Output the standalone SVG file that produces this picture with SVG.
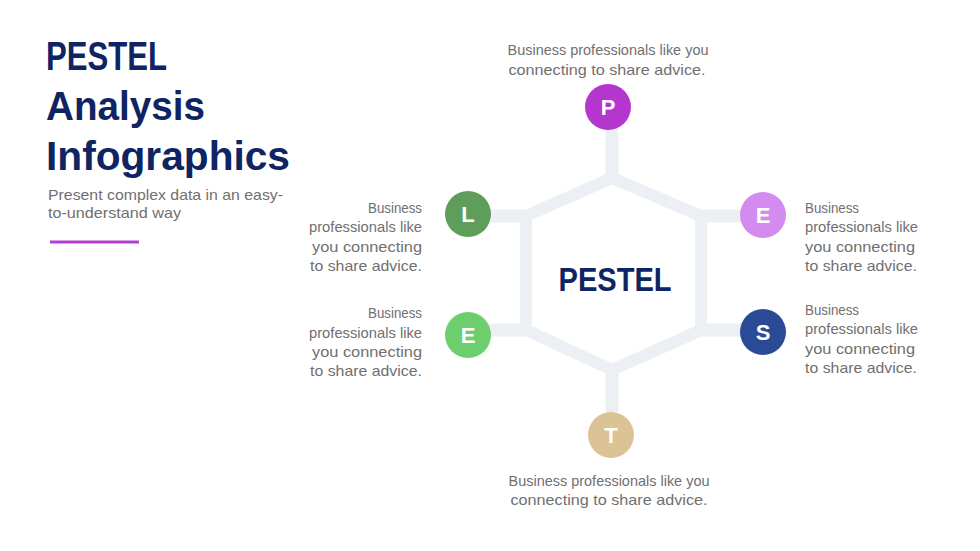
<svg xmlns="http://www.w3.org/2000/svg" width="980" height="551" viewBox="0 0 980 551">
<style>
.title{font-family:"Liberation Sans",Arial,sans-serif;font-weight:bold;font-size:41px;fill:#0f2463}
.sub{font-family:"Liberation Sans",Arial,sans-serif;font-size:14.5px;fill:#707070}
.body{font-family:"Liberation Sans",Arial,sans-serif;font-size:14.5px;fill:#707070}
.letter{font-family:"Liberation Sans",Arial,sans-serif;font-weight:bold;font-size:22px;fill:#ffffff;text-anchor:middle}
.conn{stroke:#ecf0f4;stroke-width:13;fill:none}
.hex{stroke:#ecf0f4;stroke-width:12;fill:#ffffff;stroke-linejoin:miter}
</style>
<rect width="980" height="551" fill="#ffffff"/>
<g id="title">
<text class="title" x="46" y="70" textLength="121" lengthAdjust="spacingAndGlyphs">PESTEL</text>
<text class="title" x="46" y="120" textLength="159" lengthAdjust="spacingAndGlyphs">Analysis</text>
<text class="title" x="46" y="170" textLength="244" lengthAdjust="spacingAndGlyphs">Infographics</text>
<text class="sub" x="48" y="200" textLength="235" lengthAdjust="spacingAndGlyphs">Present complex data in an easy-</text>
<text class="sub" x="48" y="218" textLength="133" lengthAdjust="spacingAndGlyphs">to-understand way</text>
<rect x="50" y="240.5" width="89" height="3" fill="#b43fd3"/>
</g>
<g id="connectors">
<line class="conn" x1="612" y1="128" x2="612" y2="178"/>
<line class="conn" x1="612" y1="370" x2="612" y2="412"/>
<line class="conn" x1="488" y1="216" x2="526" y2="216"/>
<line class="conn" x1="488" y1="330" x2="526" y2="330"/>
<line class="conn" x1="701" y1="216" x2="742" y2="216"/>
<line class="conn" x1="701" y1="330" x2="742" y2="330"/>
</g>
<g id="center">
<polygon class="hex" points="612,178 701,216 701,330 612,370 526,330 526,216"/>
<text x="615" y="291" text-anchor="middle" font-family="'Liberation Sans',Arial,sans-serif" font-weight="bold" font-size="34" fill="#0f2463" textLength="113" lengthAdjust="spacingAndGlyphs">PESTEL</text>
</g>
<g id="node-p">
<circle cx="608" cy="107" r="23" fill="#b536cf"/>
<text class="letter" x="608" y="115">P</text>
<text class="body" x="608" y="55" text-anchor="middle" textLength="201" lengthAdjust="spacingAndGlyphs">Business professionals like you</text>
<text class="body" x="607" y="75" text-anchor="middle" textLength="197" lengthAdjust="spacingAndGlyphs">connecting to share advice.</text>
</g>
<g id="node-e1">
<circle cx="763" cy="215" r="23" fill="#d38bf0"/>
<text class="letter" x="763" y="223">E</text>
<text class="body" x="805" y="213" textLength="54" lengthAdjust="spacingAndGlyphs">Business</text>
<text class="body" x="805" y="232" textLength="113" lengthAdjust="spacingAndGlyphs">professionals like</text>
<text class="body" x="805" y="252" textLength="110" lengthAdjust="spacingAndGlyphs">you connecting</text>
<text class="body" x="805" y="271" textLength="112" lengthAdjust="spacingAndGlyphs">to share advice.</text>
</g>
<g id="node-s">
<circle cx="763" cy="332" r="23" fill="#2b4a96"/>
<text class="letter" x="763" y="340">S</text>
<text class="body" x="805" y="315" textLength="54" lengthAdjust="spacingAndGlyphs">Business</text>
<text class="body" x="805" y="334" textLength="113" lengthAdjust="spacingAndGlyphs">professionals like</text>
<text class="body" x="805" y="354" textLength="110" lengthAdjust="spacingAndGlyphs">you connecting</text>
<text class="body" x="805" y="373" textLength="112" lengthAdjust="spacingAndGlyphs">to share advice.</text>
</g>
<g id="node-t">
<circle cx="611" cy="435" r="23" fill="#dcc396"/>
<text class="letter" x="611" y="443">T</text>
<text class="body" x="609" y="486" text-anchor="middle" textLength="201" lengthAdjust="spacingAndGlyphs">Business professionals like you</text>
<text class="body" x="609" y="505" text-anchor="middle" textLength="197" lengthAdjust="spacingAndGlyphs">connecting to share advice.</text>
</g>
<g id="node-e2">
<circle cx="468" cy="335" r="23" fill="#6dce6d"/>
<text class="letter" x="468" y="343">E</text>
<text class="body" x="422" y="318" text-anchor="end" textLength="54" lengthAdjust="spacingAndGlyphs">Business</text>
<text class="body" x="422" y="338" text-anchor="end" textLength="113" lengthAdjust="spacingAndGlyphs">professionals like</text>
<text class="body" x="422" y="357" text-anchor="end" textLength="110" lengthAdjust="spacingAndGlyphs">you connecting</text>
<text class="body" x="422" y="376" text-anchor="end" textLength="112" lengthAdjust="spacingAndGlyphs">to share advice.</text>
</g>
<g id="node-l">
<circle cx="468" cy="214" r="23" fill="#5f9e5a"/>
<text class="letter" x="468" y="222">L</text>
<text class="body" x="422" y="213" text-anchor="end" textLength="54" lengthAdjust="spacingAndGlyphs">Business</text>
<text class="body" x="422" y="232" text-anchor="end" textLength="113" lengthAdjust="spacingAndGlyphs">professionals like</text>
<text class="body" x="422" y="252" text-anchor="end" textLength="110" lengthAdjust="spacingAndGlyphs">you connecting</text>
<text class="body" x="422" y="271" text-anchor="end" textLength="112" lengthAdjust="spacingAndGlyphs">to share advice.</text>
</g>
</svg>
